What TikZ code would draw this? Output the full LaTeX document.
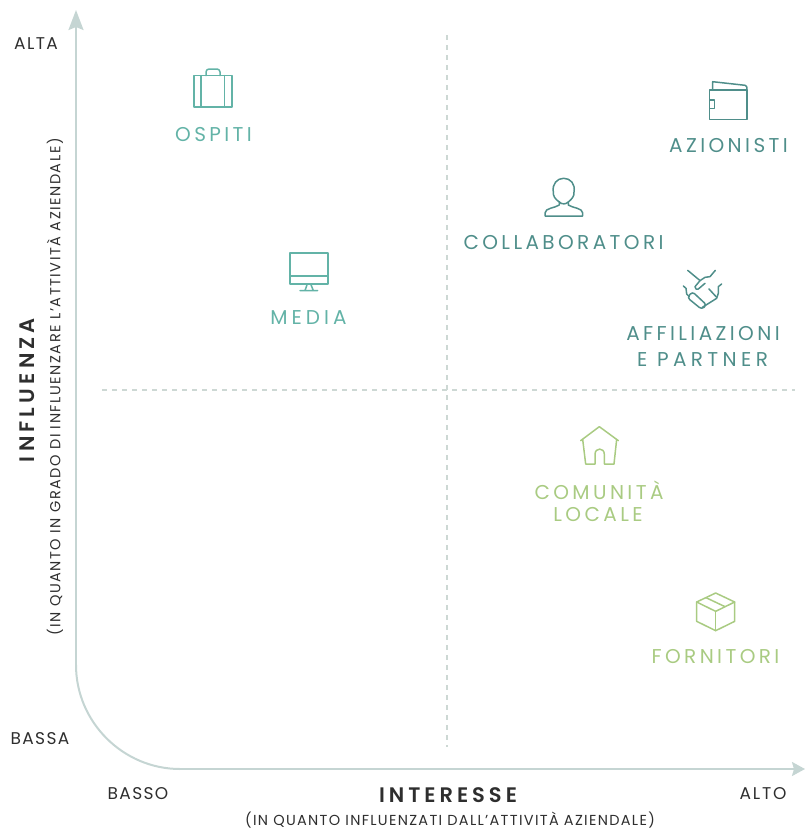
\documentclass[tikz,border=0pt]{standalone}
\usepackage{fontspec}
\setmainfont{Poppins}[BoldFont=*-SemiBold]
\usetikzlibrary{arrows.meta}
\definecolor{axiscol}{HTML}{C5D5D3}
\definecolor{dashcol}{HTML}{CDD8D4}
\definecolor{teallight}{HTML}{63B3A7}
\definecolor{tealdark}{HTML}{4F8E8A}
\definecolor{leaf}{HTML}{A9CB82}
\definecolor{inkcol}{HTML}{2E2E2E}
\newcommand{\sized}[2]{\fontsize{#1}{#1}\selectfont\addfontfeatures{LetterSpace=#2}}
\tikzset{
  lab/.style={inner sep=0pt,align=center,font=\sized{20}{17}},
  tick/.style={inner sep=0pt,text=inkcol,font=\sized{17}{8}},
  axtitle/.style={inner sep=0pt,text=inkcol,font=\sized{21}{19}\bfseries},
  axsub/.style={inner sep=0pt,text=inkcol,font=\sized{14.5}{9}},
  icon/.style={line width=1.5pt,line join=round,line cap=round},
  axisline/.style={line width=2pt,axiscol},
  guide/.style={line width=1.7pt,dashcol,dash pattern=on 5pt off 5pt}
}
\begin{document}
\begin{tikzpicture}[x=1pt,y=-1pt]
\useasboundingbox (0,0) rectangle (805,830);
% axes
\coordinate (top) at (76,10);
\coordinate (right) at (805,769);
\coordinate (c1) at (76,665);
\coordinate (c2) at (180,769);
\draw[axisline,-{Stealth[length=20pt,width=15pt,inset=3pt]}] (c1) -- (top);
\draw[axisline,-{Stealth[length=13pt,width=14pt,inset=2pt]}] (c2) -- (right);
\draw[axisline] (c1) .. controls (76,722) and (123,769) .. (c2);
% guides
\coordinate (vt) at (447,35);
\coordinate (vb) at (447,747);
\coordinate (hl) at (102,390);
\coordinate (hr) at (795,390);
\draw[guide] (vt) -- (vb);
\draw[guide] (hl) -- (hr);
% axis texts
\node[tick] (alta) at (36,43.5) {ALTA};
\node[tick] (bassa) at (40,738.5) {BASSA};
\node[tick] (basso) at (138,793.5) {BASSO};
\node[tick,font=\sized{17}{11}] (alto) at (763,793.5) {ALTO};
\node[axtitle] (interesse) at (448,795.5) {INTERESSE};
\node[axsub] (subx) at (450,820.5) {(IN QUANTO INFLUENZATI DALL’ATTIVITÀ AZIENDALE)};
\node[axtitle,rotate=90,font=\sized{21}{20}\bfseries] (influenza) at (27,390) {INFLUENZA};
\node[axsub,rotate=90,font=\sized{14.5}{10.5}] (suby) at (55,387) {(IN QUANTO IN GRADO DI INFLUENZARE L’ATTIVITÀ AZIENDALE)};
% labels
\node[lab,text=teallight] (ospiti) at (213.5,135) {OSPITI};
\node[lab,text=teallight,font=\sized{20}{20}] (media) at (308.5,318) {MEDIA};
\node[lab,text=tealdark] (azionisti) at (728.5,146) {AZIONISTI};
\node[lab,text=tealdark] (collab) at (563.5,243) {COLLABORATORI};
\node[lab,text=tealdark] (affil) at (703,334) {AFFILIAZIONI};
\node[lab,text=tealdark,font=\sized{20}{22}] (partner) at (702.5,360) {E PARTNER};
\node[lab,text=leaf] (comunita) at (599,490) {COMUNITÀ};
\node[lab,text=leaf] (locale) at (598,515) {LOCALE};
\node[lab,text=leaf] (fornitori) at (715.5,657) {FORNITORI};
\begin{scope}[icon,teallight]
% suitcase
\draw (194,75.7) rectangle (232,107);
\draw (201,75.7) -- (201,107) (224.3,75.7) -- (224.3,107);
\draw[rounded corners=3pt] (206,75.7) -- (206,69) -- (220,69) -- (220,75.7);
% monitor
\draw (290,253) rectangle (328,284);
\draw (290,276) -- (328,276);
\draw (307.3,284) -- (305,290.5) (310.7,284) -- (313.3,290.5) (300,290.5) -- (317.7,290.5);
\end{scope}
\begin{scope}[icon,tealdark]
% wallet
\draw (709.3,90) rectangle (747,119.3);
\draw (712.7,90) -- (712.7,81.7) -- (745,85.3) .. controls (746.5,85.6) and (747,86.5) .. (747,90);
\draw (709.3,100) rectangle (714.3,108.3);
% person
\draw (559.3,202) .. controls (555,199) and (553,196) .. (553.3,192) .. controls (552,184) and (557,178.3) .. (563.7,178.3) .. controls (570.5,178.3) and (575.5,184) .. (574,192) .. controls (574.5,196) and (572,199) .. (568.3,202) .. controls (566,204.5) and (561.5,204.5) .. (559.3,202);
\draw (559.3,201.7) -- (559.3,205) .. controls (555,208) and (545,208) .. (545,213) -- (545,216) -- (582.7,216) -- (582.7,213) .. controls (582.7,208) and (572.5,208) .. (568.3,205) -- (568.3,201.7);
% handshake
\begin{scope}[shift={(530,70)},scale=1/3]
\draw (473,601) -- (508,630);
\draw (556,601) -- (540,620) -- (525,622) -- (510,632) -- (495,650) -- (498,657) -- (505,657) -- (525,640);
\draw[rounded corners=3pt] (472,683) -- (487,665) -- (530,705) -- (515,718) -- cycle;
\draw (460,648) -- (468,655) -- (470,672) -- (478,680);
\draw (575,642) -- (565,650) -- (565,670) -- (560,685) -- (517,712);
\draw (537,657) -- (560,682);
\end{scope}
\end{scope}
\begin{scope}[icon,leaf]
\begin{scope}[shift={(560,420)},scale=1/3]
% house
\draw (62,62) -- (118,20) -- (175,62);
\draw (68,58) -- (77,132) -- (105,132) -- (105,103) .. controls (105,82) and (133,82) .. (133,103) -- (133,132) -- (162,132) -- (170,58);
% box
\draw (410,546) -- (467,519) -- (524,546) -- (467,574) -- cycle;
\draw (410,546) -- (410,604) -- (467,632) -- (524,604) -- (524,546);
\draw (467,574) -- (467,632);
\draw (438,533) -- (495,560);
\end{scope}
\end{scope}
\end{tikzpicture}
\end{document}
